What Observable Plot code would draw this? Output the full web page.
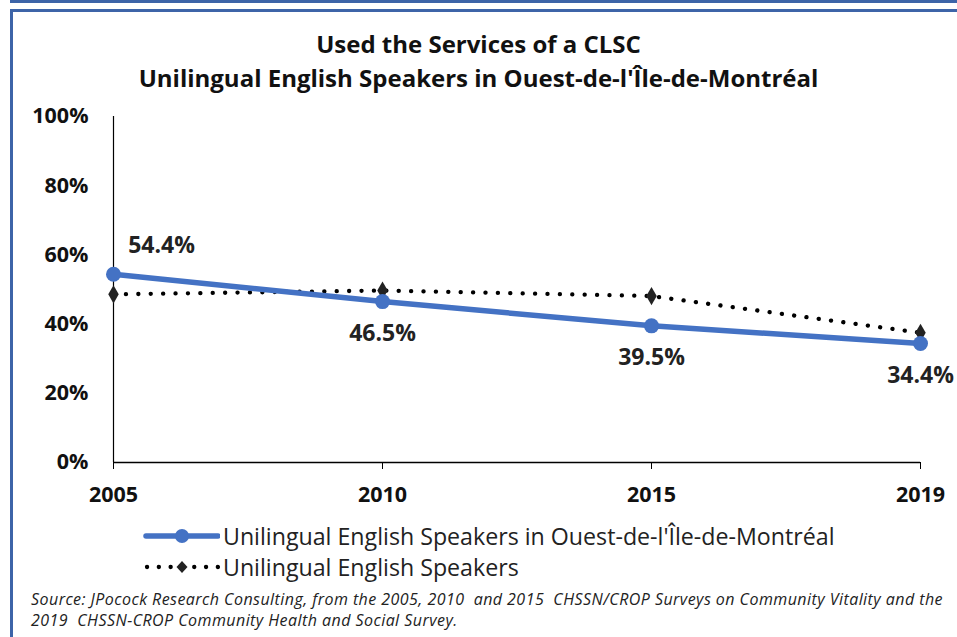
<!DOCTYPE html>
<html>
<head>
<meta charset="utf-8">
<script src="https://cdn.jsdelivr.net/npm/d3@7"></script>
<script src="https://cdn.jsdelivr.net/npm/@observablehq/plot@0.6"></script>
<style>
  html, body { margin: 0; padding: 0; background: #fff; }
  #wrap { position: relative; width: 957px; height: 637px; overflow: hidden; font-family: "Open Sans", Lato, sans-serif; color: #222; }
  .bar { position: absolute; background: #3d64a8; }
  #title { position: absolute; left: 0; width: 957px; top: 27px; text-align: center; font-weight: bold; font-size: 24px; line-height: 34px; color: #111; }
  #plot { position: absolute; left: 0; top: 100px; }
  #legend { position: absolute; left: 142px; top: 521px; font-size: 23.2px; color: #222; }
  .lrow { height: 30.5px; display: flex; align-items: center; }
  .lrow svg { margin-right: 3px; }
  #caption { position: absolute; left: 31px; top: 589px; font-size: 16px; letter-spacing: 0.45px; font-style: italic; line-height: 21px; color: #222; white-space: nowrap; }
</style>
</head>
<body>
<div id="wrap">
  <div class="bar" style="left:10px; top:0; width:947px; height:3px;"></div>
  <div class="bar" style="left:10px; top:9px; width:947px; height:3px;"></div>
  <div class="bar" style="left:10px; top:9px; width:3px; height:628px;"></div>
  <div id="title">Used the Services of a CLSC<br>Unilingual English Speakers in Ouest-de-l'Île-de-Montréal</div>
  <div id="plot"></div>
  <div id="legend"></div>
  <div id="caption">Source: JPocock Research Consulting, from the 2005, 2010&nbsp; and 2015&nbsp; CHSSN/CROP Surveys on Community Vitality and the<br>2019&nbsp; CHSSN-CROP Community Health and Social Survey.</div>
</div>
<script>
const years = ["2005", "2010", "2015", "2019"];
const ouestValues = [0.544, 0.465, 0.395, 0.344];
const allValues = [0.486, 0.497, 0.481, 0.375];
const seriesNames = ["Unilingual English Speakers in Ouest-de-l'Île-de-Montréal", "Unilingual English Speakers"];
const yTicks = [0, 0.2, 0.4, 0.6, 0.8, 1.0];

const blue = "#4472C4";
const ouest = years.map((y, i) => ({year: y, value: ouestValues[i]}));
const all = years.map((y, i) => ({year: y, value: allValues[i]}));
const pct = d3.format(".1f");
const label = d => pct(d.value * 100) + "%";

const chart = Plot.plot({
  width: 957,
  height: 410,
  marginLeft: 113,
  marginRight: 37,
  marginTop: 16,
  marginBottom: 48,
  style: {fontFamily: "'Open Sans', Lato, sans-serif", color: "#222", background: "transparent", overflow: "visible"},
  x: {type: "point", domain: years, padding: 0},
  y: {domain: [0, 1]},
  marks: [
    Plot.ruleY([0], {stroke: "#000", strokeWidth: 1.5}),
    Plot.ruleX([years[0]], {y1: 0, y2: 1, stroke: "#000", strokeWidth: 1.2}),
    Plot.axisX({tickSize: 7, tickPadding: 17, stroke: "#000", fontSize: 21.5, fontWeight: "bold", fill: "#111", label: null}),
    Plot.axisY({ticks: yTicks, tickSize: 0, tickPadding: 25, tickFormat: d3.format(".0%"), fontSize: 21.5, fontWeight: "bold", fill: "#111", label: null}),
    Plot.line(all, {x: "year", y: "value", stroke: "#000", strokeWidth: 4.3, strokeDasharray: "0.1,12.3", strokeLinecap: "round"}),
    Plot.dot(all, {x: "year", y: "value", symbol: "diamond", r: 5.5, fill: "#222", stroke: null}),
    Plot.line(ouest, {x: "year", y: "value", stroke: blue, strokeWidth: 5.5}),
    Plot.dot(ouest, {x: "year", y: "value", r: 7.5, fill: blue, stroke: null}),
    Plot.text(ouest.slice(0, 1), {x: "year", y: "value", text: label, dx: 48, dy: -29, fontSize: 23, fontWeight: "bold", fill: "#222"}),
    Plot.text(ouest.slice(1), {x: "year", y: "value", text: label, dy: 32, fontSize: 23, fontWeight: "bold", fill: "#222"})
  ]
});
document.getElementById("plot").appendChild(chart);

const legend = document.getElementById("legend");
const rows = [
  `<svg width="78" height="16"><line x1="4" y1="8" x2="76" y2="8" stroke="${blue}" stroke-width="5.5" stroke-linecap="round"/><circle cx="40" cy="8" r="7" fill="${blue}"/></svg>`,
  `<svg width="78" height="16"><line x1="5" y1="8" x2="76" y2="8" stroke="#000" stroke-width="4.3" stroke-dasharray="0.1,11.7" stroke-linecap="round"/><path d="M40,2 L45.5,8 L40,14 L34.5,8 Z" fill="#222"/></svg>`
];
seriesNames.forEach((name, i) => {
  const row = document.createElement("div");
  row.className = "lrow";
  row.innerHTML = rows[i] + `<span>${name}</span>`;
  legend.appendChild(row);
});
</script>
</body>
</html>
